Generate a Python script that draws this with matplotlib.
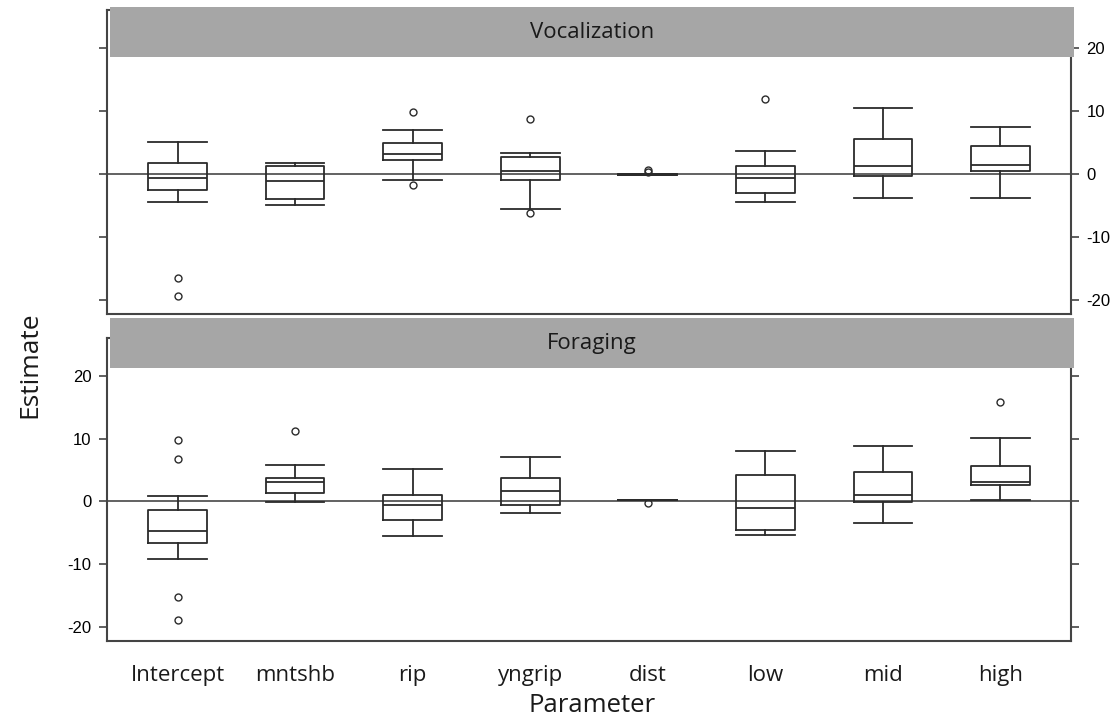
import matplotlib
matplotlib.use("Agg")
import matplotlib.pyplot as plt
from matplotlib.patches import Rectangle

plt.rcParams["axes.unicode_minus"] = False

# ---------------- data ----------------
params = ["Intercept", "mntshb", "rip", "yngrip", "dist", "low", "mid", "high"]
panels = ["Vocalization", "Foraging"]

# Vocalization
voc_whislo = [-4.5, -5.0, -0.9, -5.6, -0.15, -4.4, -3.8, -3.8]
voc_q1     = [-2.5, -4.0, 2.2, -0.9, -0.1, -3.1, -0.4, 0.4]
voc_med    = [-0.65, -1.1, 3.1, 0.4, -0.05, -0.65, 1.2, 1.4]
voc_q3     = [1.75, 1.2, 4.9, 2.65, 0.0, 1.2, 5.5, 4.5]
voc_whishi = [5.1, 1.75, 7.0, 3.4, 0.05, 3.7, 10.5, 7.5]
voc_fliers = [[-16.6, -19.5], [], [9.8, -1.8], [8.7, -6.2], [0.3, 0.6], [11.9], [], []]

# Foraging
for_whislo = [-9.25, -0.1, -5.5, -1.8, 0.15, -5.3, -3.5, 0.2]
for_q1     = [-6.6, 1.3, -3.0, -0.6, 0.2, -4.6, -0.1, 2.6]
for_med    = [-4.7, 3.1, -0.6, 1.65, 0.22, -1.0, 1.1, 3.1]
for_q3     = [-1.44, 3.7, 1.06, 3.7, 0.25, 4.2, 4.7, 5.6]
for_whishi = [0.85, 5.8, 5.2, 7.1, 0.3, 8.1, 8.9, 10.2]
for_fliers = [[9.8, 6.7, -15.3, -19.0], [11.3], [], [], [-0.2], [], [], [15.8]]

yticks = [-20, -10, 0, 10, 20]

# ---------------- figure ----------------
W, H = 1114, 719
fig = plt.figure(figsize=(W / 100, H / 100), dpi=100)
fig.patch.set_facecolor("white")

label_font = ["Open Sans", "DejaVu Sans"]
tick_font = ["Liberation Sans", "DejaVu Sans"]


def fx(px):
    return px / W


def fy(py):
    return 1 - py / H


ax_top = fig.add_axes([fx(107), fy(314), fx(1071) - fx(107), fy(10) - fy(314)])
ax_bot = fig.add_axes([fx(107), fy(641), fx(1071) - fx(107), fy(338) - fy(641)])


def stats_list(whislo, q1, med, q3, whishi, fliers):
    out = []
    for i in range(len(med)):
        out.append(dict(whislo=whislo[i], q1=q1[i], med=med[i], q3=q3[i],
                        whishi=whishi[i], fliers=fliers[i]))
    return out


line_c = "#2b2b2b"
lw = 1.3
for ax, st in [
    (ax_top, stats_list(voc_whislo, voc_q1, voc_med, voc_q3, voc_whishi, voc_fliers)),
    (ax_bot, stats_list(for_whislo, for_q1, for_med, for_q3, for_whishi, for_fliers)),
]:
    ax.axhline(0, color="#555555", lw=1.3, zorder=1)
    ax.bxp(st, positions=range(1, len(params) + 1), widths=0.5, showfliers=True,
           boxprops=dict(color=line_c, lw=lw),
           whiskerprops=dict(color=line_c, lw=lw),
           capprops=dict(color=line_c, lw=lw),
           medianprops=dict(color=line_c, lw=lw),
           flierprops=dict(marker="o", markersize=5, markerfacecolor="none",
                           markeredgecolor=line_c, markeredgewidth=1.0),
           capwidths=0.5, manage_ticks=False)
    ax.set_xlim(0.4, 8.6)
    ax.set_ylim(-22.3, 26.1)
    for s in ax.spines.values():
        s.set_color("#444444")
        s.set_linewidth(1.5)
    ax.set_yticks(yticks)
    ax.tick_params(axis="y", direction="out", length=6, width=1.2, color="#444444",
                   labelsize=12, left=True, right=True, pad=5)
    ax.set_xticks(range(1, len(params) + 1))
    ax.tick_params(axis="x", length=0)

# top panel: labels on right only
ax_top.tick_params(axis="y", labelleft=False, labelright=True)
ax_top.set_xticklabels([])
# bottom panel: labels on left only
ax_bot.tick_params(axis="y", labelleft=True, labelright=False)
ax_bot.set_xticklabels(params, fontsize=16, family=label_font, color="#1a1a1a")
ax_bot.tick_params(axis="x", pad=17)
for ax in (ax_top, ax_bot):
    for t in ax.get_yticklabels():
        t.set_family(tick_font)

# strip banners
for name, ytop in zip(panels, [7, 318]):
    rect = Rectangle((fx(110), fy(ytop + 50)), fx(1074) - fx(110), 50 / H,
                     transform=fig.transFigure, facecolor="#a6a6a6",
                     edgecolor="none", zorder=5)
    fig.add_artist(rect)
    fig.text(fx(592), fy(ytop + 26), name, ha="center", va="center",
             fontsize=16, family=label_font, color="#1a1a1a", zorder=6)

fig.text(fx(592), fy(706), "Parameter", ha="center", va="center",
         fontsize=18.5, family=label_font, color="#1a1a1a")
fig.text(fx(30), fy(365), "Estimate", ha="center", va="center", rotation=90,
         fontsize=19, family=label_font, color="#1a1a1a")

fig.savefig("out.png", dpi=100)
